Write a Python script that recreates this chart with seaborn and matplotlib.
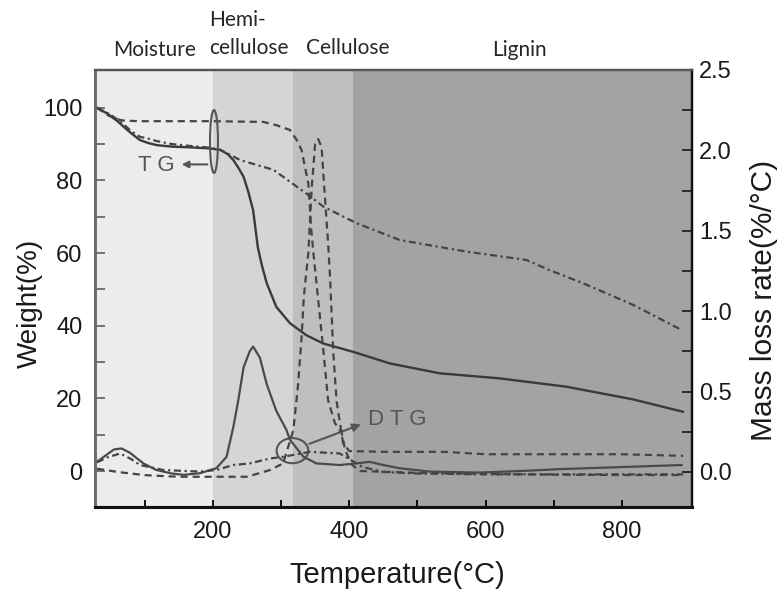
import numpy as np
import pandas as pd
import matplotlib
matplotlib.use("Agg")
import matplotlib.pyplot as plt
import seaborn as sns
from matplotlib.patches import Ellipse
from matplotlib.ticker import FixedLocator

# ---------------- data ----------------
# TG curves (left axis, Weight %)
tg_solid_T = [30, 45, 60, 69, 80, 93, 105, 118, 140, 166, 196, 211, 222, 230, 237, 245, 252, 259, 266,
              272, 279, 293, 313, 337, 362, 406, 460, 533, 621, 719, 817, 890]
tg_solid_W = [100, 98.4, 96.3, 94.8, 93.0, 91.1, 90.3, 89.7, 89.3, 89.1, 88.8, 88.4, 87.2, 85.6, 83.6,
              81.0, 76.8, 71.8, 61.5, 56.5, 51.7, 45.2, 40.7, 37.4, 35.1, 32.8, 29.6, 26.9, 25.5,
              23.2, 19.7, 16.3]

tg_dashdot_T = [30, 45, 60, 69, 80, 93, 105, 118, 140, 166, 196, 211, 240, 289, 337, 362, 411, 474,
                489, 572, 660, 694, 743, 817, 888]
tg_dashdot_W = [100, 98.6, 96.8, 95.4, 93.6, 92.0, 91.5, 90.8, 90.0, 89.5, 89.0, 88.4, 85.6, 82.9,
                76.4, 72.8, 68.2, 63.6, 63.1, 60.4, 58.1, 55.3, 51.7, 45.7, 38.8]

tg_dashed_T = [30, 45, 60, 68, 90, 150, 200, 274, 293, 313, 323, 330, 335, 340, 342.5, 344, 347,
               354.5, 362, 369, 379, 389, 394, 404, 416, 500, 600, 700, 800, 890]
tg_dashed_W = [100, 98.0, 96.8, 96.5, 96.3, 96.3, 96.3, 96.1, 95.2, 93.9, 91.1, 88.4, 83.8, 79.2,
               71.8, 67.2, 60.8, 47.1, 33.3, 19.5, 13.2, 10.5, 5.8, 1.7, 0.0, -0.5, -0.8, -1.0,
               -1.1, -1.1]

# DTG curves (right axis, Mass loss rate %/°C)
dtg_solid_T = [30, 45, 55, 66, 78, 98, 117, 140, 157, 181, 205, 220, 230, 237, 245, 254, 259, 269,
               279, 293, 308, 313, 333, 352, 386, 410, 430, 450, 474, 518, 591, 665, 711, 819, 888]
dtg_solid_V = [0.063, 0.11, 0.14, 0.146, 0.12, 0.053, 0.012, -0.01, -0.018, -0.008, 0.023, 0.094,
               0.28, 0.44, 0.65, 0.75, 0.78, 0.71, 0.545, 0.38, 0.26, 0.2, 0.094, 0.053, 0.043,
               0.053, 0.063, 0.043, 0.023, 0.002, -0.004, 0.008, 0.018, 0.033, 0.043]

dtg_dashed_T = [30, 60, 100, 150, 250, 284, 303, 318, 320, 325, 330, 333, 335, 340, 345, 347, 350,
                354.5, 359.5, 364, 369, 372, 376.5, 381.5, 391, 400, 450, 540, 600, 700, 800, 890]
dtg_dashed_V = [0.02, 0.0, -0.02, -0.03, -0.03, 0.012, 0.053, 0.26, 0.34, 0.545, 0.83, 1.06, 1.16,
                1.36, 1.77, 1.875, 2.04, 2.07, 2.02, 1.73, 1.425, 1.2, 0.75, 0.44, 0.18, 0.13,
                0.125, 0.125, 0.11, 0.11, 0.11, 0.1]

dtg_dashdot_T = [30, 45, 64, 80, 93, 127, 181, 205, 230, 254, 284, 303, 342, 386, 400, 420, 450,
                 500, 600, 700, 800, 890]
dtg_dashdot_V = [0.06, 0.09, 0.115, 0.08, 0.043, 0.012, 0.002, 0.012, 0.043, 0.053, 0.084, 0.094,
                 0.125, 0.115, 0.08, 0.03, 0.0, -0.01, -0.015, -0.015, -0.015, -0.015]

region_names = ["Moisture", "Hemi-\ncellulose", "Cellulose", "Lignin"]
region_edges = [27, 200, 318, 405, 903]
region_colors = ["#ececec", "#d5d5d5", "#bfbfbf", "#a3a3a3"]

x_ticks = [200, 400, 600, 800]
y_left_ticks = [0, 20, 40, 60, 80, 100]
y_right_ticks = [0.0, 0.5, 1.0, 1.5, 2.0, 2.5]

# ---------------- figure ----------------
sns.set_style("ticks")
plt.rcParams['font.family'] = ['Liberation Sans', 'DejaVu Sans']

fig = plt.figure(figsize=(7.8, 5.9), dpi=100)
ax = fig.add_axes([0.1218, 0.1407, 0.7654, 0.7407])
ax2 = ax.twinx()

for i in range(len(region_colors)):
    ax.axvspan(region_edges[i], region_edges[i + 1], color=region_colors[i], lw=0, zorder=0)

solid_c = "#3a3a3a"
dash_c = "#444444"
dash_ls = (0, (3.2, 2.2))
dashdot_ls = (0, (3.2, 1.6, 1.0, 1.6))

sns.lineplot(x=tg_solid_T, y=tg_solid_W, ax=ax, color=solid_c, lw=1.7, estimator=None, sort=False)
sns.lineplot(x=tg_dashed_T, y=tg_dashed_W, ax=ax, color=dash_c, lw=1.6, linestyle=dash_ls,
             estimator=None, sort=False)
sns.lineplot(x=tg_dashdot_T, y=tg_dashdot_W, ax=ax, color=dash_c, lw=1.6, linestyle=dashdot_ls,
             estimator=None, sort=False)

sns.lineplot(x=dtg_solid_T, y=dtg_solid_V, ax=ax2, color="#4a4a4a", lw=1.6, estimator=None, sort=False)
sns.lineplot(x=dtg_dashed_T, y=dtg_dashed_V, ax=ax2, color=dash_c, lw=1.6, linestyle=dash_ls,
             estimator=None, sort=False)
sns.lineplot(x=dtg_dashdot_T, y=dtg_dashdot_V, ax=ax2, color=dash_c, lw=1.6, linestyle=dashdot_ls,
             estimator=None, sort=False)

ax.set_xlim(27, 903)
ax.set_ylim(-9.9, 110.4)
ax2.set_ylim(-0.218, 2.5)

ax.xaxis.set_major_locator(FixedLocator(x_ticks))
ax.xaxis.set_minor_locator(FixedLocator([100, 300, 500, 700]))
ax.yaxis.set_major_locator(FixedLocator(y_left_ticks))
ax.yaxis.set_minor_locator(FixedLocator([10, 30, 50, 70, 90]))
ax2.yaxis.set_major_locator(FixedLocator(y_right_ticks))
ax2.yaxis.set_minor_locator(FixedLocator([0.25, 0.75, 1.25, 1.75, 2.25]))
ax2.set_yticklabels([f"{v:.1f}" for v in y_right_ticks])

ax.set_xlabel("")
ax.set_ylabel("")
ax2.set_ylabel("")

ax.tick_params(axis='x', which='both', direction='in', length=5, width=1.3, colors='black',
               labelsize=17, pad=10, labelcolor='#1a1a1a', top=False)
ax.tick_params(axis='y', which='both', direction='in', length=7, width=1.3, colors='#6a6a6a',
               labelsize=17, pad=9, labelcolor='#1a1a1a')
ax2.tick_params(axis='y', which='both', direction='in', length=7, width=1.3, colors='#222222',
                labelsize=17, pad=5, labelcolor='#1a1a1a')

for a in (ax, ax2):
    a.spines['left'].set_color('#6a6a6a')
    a.spines['left'].set_linewidth(1.8)
    a.spines['bottom'].set_color('#111111')
    a.spines['bottom'].set_linewidth(2.2)
    a.spines['right'].set_color('#111111')
    a.spines['right'].set_linewidth(1.6)
    a.spines['top'].set_color('#555555')
    a.spines['top'].set_linewidth(1.6)

# annotations
ann_c = "#555555"
ax.add_patch(Ellipse((201.6, 90.7), width=11.7, height=17.3, fill=False, ec=ann_c, lw=1.5, zorder=5))
ax.annotate("", xy=(150, 84.4), xytext=(196, 84.4),
            arrowprops=dict(arrowstyle='-|>', color=ann_c, lw=1.5, mutation_scale=10))
ax.text(117, 84.0, "T G", ha='center', va='center', fontsize=16, color=ann_c)

ax.add_patch(Ellipse((316.7, 5.6), width=46.5, height=6.9, fill=False, ec=ann_c, lw=1.5, zorder=5))
ax.annotate("", xy=(421, 13.1), xytext=(337.6, 7.2),
            arrowprops=dict(arrowstyle='-|>', color=ann_c, lw=1.5, mutation_scale=12))
ax.text(428, 14.3, "D T G", ha='left', va='center', fontsize=16, color=ann_c)

# axis labels
fig.text(397 / 780, 1 - 575 / 590, "Temperature(°C)", ha='center', va='center', fontsize=21,
         color='#1a1a1a')
fig.text(30 / 780, 1 - 303 / 590, "Weight(%)", ha='center', va='center', rotation=90, fontsize=20,
         color='#1a1a1a')
fig.text(764 / 780, 1 - 300 / 590, "Mass loss rate(%/°C)", ha='center', va='center', rotation=90,
         fontsize=21.5, color='#1a1a1a')

# region labels
lab_font = ['Lato', 'DejaVu Sans']
fig.text(155 / 780, 1 - 50 / 590, region_names[0], ha='center', va='center', fontsize=15,
         family=lab_font)
fig.text(209 / 780, 1 - 34 / 590, region_names[1], ha='left', va='center', fontsize=15,
         family=lab_font, linespacing=1.45)
fig.text(348 / 780, 1 - 48 / 590, region_names[2], ha='center', va='center', fontsize=15,
         family=lab_font)
fig.text(519 / 780, 1 - 50 / 590, region_names[3], ha='center', va='center', fontsize=15,
         family=lab_font)

fig.savefig("out.png", dpi=100)
